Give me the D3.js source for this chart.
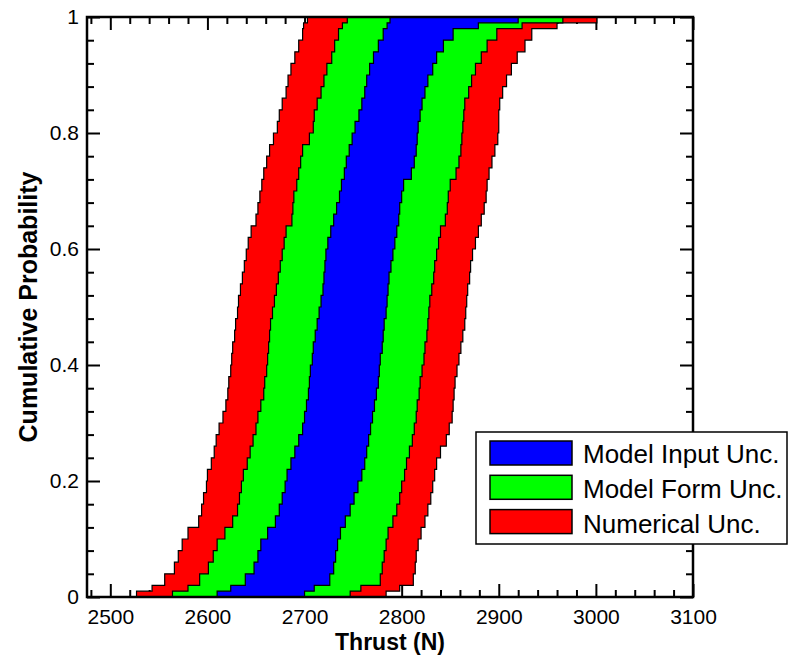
<html>
<meta charset="utf-8" />
<head>
<title>Thrust CDF uncertainty bands</title>
<script src="https://cdn.jsdelivr.net/npm/d3@7"></script>
<style>
	body { margin: 0; background: #fff; }
	text { font-family: "Liberation Sans", Arial, sans-serif; fill: #000; }
</style>
<script>

// cumulative probability levels (steps of the empirical CDFs)
const probLevels = [0, 0.01, 0.02, 0.04, 0.06, 0.08, 0.10, 0.12, 0.14, 0.16, 0.18, 0.20, 0.22, 0.24, 0.26, 0.28, 0.30,
	0.32, 0.34, 0.36, 0.38, 0.40, 0.42, 0.44, 0.46, 0.48, 0.50, 0.52, 0.54, 0.56, 0.58, 0.60, 0.62, 0.64, 0.66, 0.68,
	0.70, 0.72, 0.74, 0.76, 0.78, 0.80, 0.82, 0.84, 0.86, 0.88, 0.90, 0.92, 0.94, 0.96, 0.98, 0.99, 1];

// thrust (N) of each bounding CDF at those levels
const numericalLow = [2527, 2527, 2543, 2556, 2566, 2570, 2574, 2580, 2591, 2594, 2596, 2599, 2600, 2604, 2607, 2609, 2612,
	2616, 2619, 2621, 2622, 2624, 2625, 2626, 2628, 2629, 2631, 2632, 2634, 2636, 2638, 2640, 2642, 2645, 2650, 2652,
	2654, 2656, 2658, 2661, 2664, 2668, 2672, 2674, 2677, 2681, 2683, 2686, 2690, 2694, 2698, 2699, 2703];
const formLow = [2564, 2564, 2580, 2592, 2601, 2606, 2610, 2618, 2626, 2631, 2633, 2635, 2637, 2641, 2644, 2647, 2650,
	2652, 2655, 2658, 2659, 2661, 2662, 2663, 2664, 2665, 2667, 2669, 2671, 2673, 2675, 2677, 2679, 2681, 2687, 2688,
	2689, 2692, 2694, 2696, 2698, 2705, 2709, 2710, 2713, 2717, 2720, 2723, 2728, 2731, 2735, 2739, 2744];
const inputLow = [2610, 2610, 2624, 2639, 2648, 2652, 2655, 2662, 2670, 2674, 2677, 2680, 2682, 2686, 2690, 2694, 2698,
	2700, 2702, 2704, 2705, 2706, 2708, 2709, 2711, 2713, 2715, 2717, 2719, 2720, 2721, 2722, 2724, 2727, 2730, 2733,
	2736, 2738, 2741, 2743, 2746, 2749, 2752, 2756, 2759, 2762, 2764, 2767, 2771, 2776, 2781, 2785, 2788];
const inputHigh = [2700, 2700, 2710, 2726, 2730, 2732, 2734, 2737, 2742, 2747, 2751, 2755, 2759, 2762, 2764, 2766, 2768,
	2770, 2772, 2774, 2776, 2777, 2778, 2780, 2781, 2782, 2784, 2785, 2786, 2787, 2789, 2791, 2793, 2795, 2797, 2798,
	2800, 2802, 2810, 2813, 2815, 2816, 2817, 2819, 2821, 2824, 2827, 2832, 2836, 2843, 2853, 2879, 2920];
const formHigh = [2747, 2747, 2758, 2778, 2780, 2782, 2784, 2786, 2791, 2795, 2798, 2800, 2803, 2805, 2808, 2811, 2813,
	2815, 2816, 2818, 2819, 2821, 2823, 2824, 2826, 2827, 2828, 2829, 2831, 2833, 2834, 2836, 2838, 2840, 2845, 2847,
	2848, 2850, 2856, 2859, 2861, 2862, 2863, 2864, 2865, 2869, 2872, 2876, 2882, 2888, 2898, 2924, 2966];
const numericalHigh = [2784, 2784, 2798, 2812, 2814, 2815, 2817, 2820, 2824, 2827, 2830, 2832, 2834, 2836, 2840, 2846, 2849,
	2852, 2853, 2854, 2855, 2857, 2859, 2861, 2863, 2865, 2866, 2867, 2868, 2870, 2871, 2873, 2876, 2879, 2882, 2885,
	2887, 2888, 2890, 2893, 2896, 2899, 2900, 2900, 2901, 2904, 2908, 2913, 2919, 2927, 2934, 2960, 3001];

const xTicks = [2500, 2600, 2700, 2800, 2900, 3000, 3100];
const xTickLabels = ['2500', '2600', '2700', '2800', '2900', '3000', '3100'];
const yTicks = [0, 0.2, 0.4, 0.6, 0.8, 1];
const yTickLabels = ['0', '0.2', '0.4', '0.6', '0.8', '1'];
const legendLabels = ['Model Input Unc.', 'Model Form Unc.', 'Numerical Unc.'];
const legendColors = ['#0000ff', '#00ff00', '#ff0000'];

window.onload = function() {
	let svg = d3.select('svg');

	let x = d3.scaleLinear().domain([2476, 3100]).range([87, 693]);
	let y = d3.scaleLinear().domain([0, 1]).range([597, 17]);

	// minor ticks every 20 N / 0.04
	let xMinor = d3.range(2480, 3100, 20).filter(function(v) { return v % 100 != 0; });
	let yMinor = d3.range(0, 25).map(function(i) { return i * 0.04; }).filter(function(v, i) { return i % 5 != 0; });

	function styleAxis(g) {
		g.select('.domain').remove();
		g.selectAll('line').attr('stroke', '#000').attr('stroke-width', 2);
		g.selectAll('text').style('font-size', '21px');
	}

	// major ticks (inward), labels on bottom and left only
	svg.append('g').attr('transform', 'translate(0,597)')
		.call(d3.axisBottom(x).tickValues(xTicks).tickFormat(function(d, i) { return xTickLabels[i]; })
			.tickSizeInner(-13).tickSizeOuter(0).tickPadding(12))
		.call(styleAxis);
	svg.append('g').attr('transform', 'translate(87,0)')
		.call(d3.axisLeft(y).tickValues(yTicks).tickFormat(function(d, i) { return yTickLabels[i]; })
			.tickSizeInner(-13).tickSizeOuter(0).tickPadding(8))
		.call(styleAxis);
	svg.append('g').attr('transform', 'translate(0,17)')
		.call(d3.axisTop(x).tickValues(xTicks).tickFormat('').tickSizeInner(-13).tickSizeOuter(0))
		.call(styleAxis);
	svg.append('g').attr('transform', 'translate(693,0)')
		.call(d3.axisRight(y).tickValues(yTicks).tickFormat('').tickSizeInner(-13).tickSizeOuter(0))
		.call(styleAxis);

	// minor ticks
	svg.append('g').attr('transform', 'translate(0,597)')
		.call(d3.axisBottom(x).tickValues(xMinor).tickFormat('').tickSizeInner(-7).tickSizeOuter(0)).call(styleAxis);
	svg.append('g').attr('transform', 'translate(0,17)')
		.call(d3.axisTop(x).tickValues(xMinor).tickFormat('').tickSizeInner(-7).tickSizeOuter(0)).call(styleAxis);
	svg.append('g').attr('transform', 'translate(87,0)')
		.call(d3.axisLeft(y).tickValues(yMinor).tickFormat('').tickSizeInner(-7).tickSizeOuter(0)).call(styleAxis);
	svg.append('g').attr('transform', 'translate(693,0)')
		.call(d3.axisRight(y).tickValues(yMinor).tickFormat('').tickSizeInner(-7).tickSizeOuter(0)).call(styleAxis);

	// bands: widest first
	let bands = [
		{ lo: numericalLow, hi: numericalHigh, color: '#ff0000' },
		{ lo: formLow, hi: formHigh, color: '#00ff00' },
		{ lo: inputLow, hi: inputHigh, color: '#0000ff' }
	];

	let area = d3.area()
		.curve(d3.curveStepAfter)
		.y(function(d) { return y(d.p); })
		.x0(function(d) { return x(d.lo); })
		.x1(function(d) { return x(d.hi); });

	svg.append('g')
		.selectAll('path')
		.data(bands)
		.enter()
		.append('path')
		.attr('d', function(b) {
			return area(probLevels.map(function(p, i) { return { p: p, lo: b.lo[i], hi: b.hi[i] }; }));
		})
		.style('fill', function(b) { return b.color; })
		.style('stroke', '#000')
		.style('stroke-width', '1.2px');

	// frame
	svg.append('rect')
		.attr('x', 87).attr('y', 17).attr('width', 606).attr('height', 580)
		.style('fill', 'none').style('stroke', '#000').style('stroke-width', '2.5px');

	// axis titles
	svg.append('text')
		.attr('x', 390).attr('y', 650)
		.attr('text-anchor', 'middle')
		.style('font-size', '23px').style('font-weight', 'bold')
		.text('Thrust (N)');
	svg.append('text')
		.attr('transform', 'translate(37,307) rotate(-90)')
		.attr('text-anchor', 'middle')
		.style('font-size', '25px').style('font-weight', 'bold')
		.text('Cumulative Probability');

	// legend
	let legend = svg.append('g');
	legend.append('rect')
		.attr('x', 476).attr('y', 432).attr('width', 311).attr('height', 112)
		.style('fill', '#fff').style('stroke', '#000').style('stroke-width', '1.5px');
	legend.selectAll('.swatch')
		.data(legendLabels)
		.enter()
		.append('rect')
		.attr('x', 490)
		.attr('y', function(d, i) { return 441 + i * 34.3; })
		.attr('width', 82).attr('height', 24)
		.style('fill', function(d, i) { return legendColors[i]; })
		.style('stroke', '#000').style('stroke-width', '1.5px');
	legend.selectAll('.label')
		.data(legendLabels)
		.enter()
		.append('text')
		.attr('x', 583)
		.attr('y', function(d, i) { return 463 + i * 35; })
		.style('font-size', '26px')
		.text(function(d) { return d; });
}

</script>
</head>
<body>
	<svg width="788" height="663"></svg>
</body>
</html>
